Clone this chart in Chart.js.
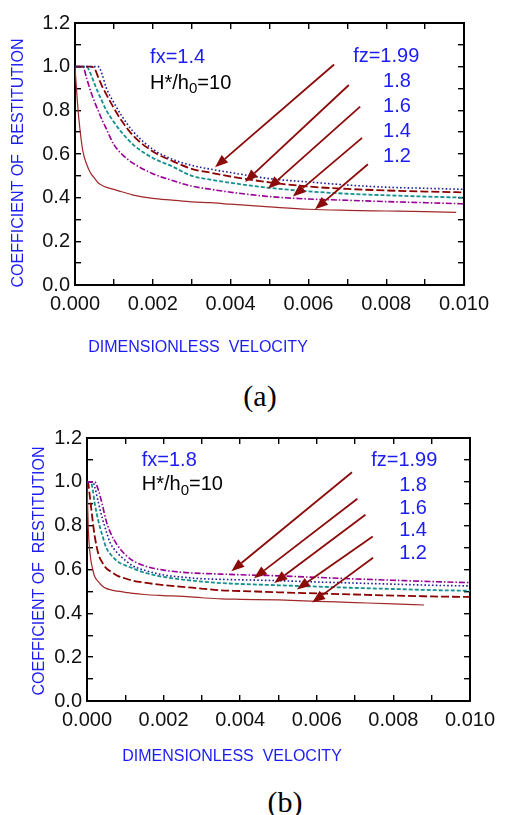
<!DOCTYPE html>
<html lang="en">
<head>
<meta charset="UTF-8">
<title>COR vs dimensionless velocity (a, b)</title>
<script src="https://cdn.jsdelivr.net/npm/chart.js@4.4.2/dist/chart.umd.min.js"></script>
<style>
    body { margin: 0; background: #fff; width: 508px; height: 815px; overflow: hidden; position: relative; }
    canvas { position: absolute; left: 0; }
    .cap { position: absolute; font-family: "Liberation Serif", "Times New Roman", serif; font-size: 30px; color: #000;
           transform: translate(-50%, -50%); white-space: nowrap; }
</style>
</head>
<body>
<canvas id="chartA" width="508" height="372" style="top:0"></canvas>
<div class="cap" style="left:260px; top:396px">(a)</div>
<canvas id="chartB" width="508" height="360" style="top:415px"></canvas>
<div class="cap" style="left:285px; top:802px">(b)</div>

<script>
// --- data ---
// panel (a): fx = 1.4
const velA = [0, 0.00005, 0.0001, 0.0002, 0.0003, 0.0004, 0.0005, 0.0006, 0.0007, 0.0008, 0.001, 0.0012, 0.0015,
              0.002, 0.0025, 0.003, 0.0035, 0.004, 0.005, 0.006, 0.007, 0.008, 0.009, 0.0098, 0.01];
const corA199 = [1, 1, 1, 1, 1, 1, 1, 1, 0.963, 0.905, 0.835, 0.775, 0.702, 0.622, 0.576, 0.548, 0.530, 0.515, 0.487, 0.472, 0.458, 0.448, 0.443, 0.439, 0.438];
const corA18  = [1, 1, 1, 1, 1, 1, 0.992, 0.95, 0.909, 0.875, 0.81, 0.752, 0.683, 0.612, 0.568, 0.532, 0.514, 0.497, 0.47, 0.451, 0.440, 0.433, 0.428, 0.425, 0.424];
const corA16  = [1, 1, 1, 1, 1, 0.968, 0.922, 0.879, 0.84, 0.802, 0.746, 0.699, 0.642, 0.582, 0.543, 0.500, 0.482, 0.468, 0.445, 0.429, 0.418, 0.411, 0.405, 0.401, 0.400];
const corA14  = [1, 1, 1, 1, 0.946, 0.889, 0.84, 0.797, 0.755, 0.717, 0.643, 0.60, 0.557, 0.51, 0.479, 0.453, 0.438, 0.425, 0.405, 0.394, 0.388, 0.382, 0.377, 0.373, 0.372];
const corA12  = [1, 0.868, 0.76, 0.615, 0.553, 0.513, 0.49, 0.467, 0.456, 0.448, 0.438, 0.427, 0.412, 0.397, 0.389, 0.381, 0.377, 0.37, 0.358, 0.347, 0.342, 0.339, 0.336, 0.333, null];

// panel (b): fx = 1.8
const velB = [0, 0.00003, 0.00005, 0.0001, 0.00015, 0.0002, 0.0003, 0.0004, 0.0005, 0.0006, 0.0008, 0.001, 0.0012, 0.0015,
              0.002, 0.0025, 0.003, 0.0035, 0.004, 0.005, 0.006, 0.007, 0.008, 0.0088, 0.009, 0.01];
const corB199 = [1, 1, 1, 1, 1, 1, 0.96, 0.896, 0.822, 0.773, 0.709, 0.668, 0.64, 0.617, 0.597, 0.587, 0.582, 0.579, 0.576, 0.571, 0.564, 0.557, 0.551, 0.546, 0.545, 0.540];
const corB18  = [1, 1, 1, 1, 1, 0.978, 0.903, 0.834, 0.776, 0.724, 0.674, 0.642, 0.616, 0.597, 0.575, 0.565, 0.558, 0.555, 0.553, 0.549, 0.543, 0.538, 0.533, 0.529, 0.528, 0.525];
const corB16  = [1, 1, 1, 1, 0.963, 0.903, 0.819, 0.756, 0.70, 0.673, 0.636, 0.619, 0.605, 0.586, 0.566, 0.554, 0.545, 0.538, 0.534, 0.528, 0.522, 0.516, 0.511, 0.507, 0.506, 0.503];
const corB14  = [1, 1, 0.97, 0.895, 0.82, 0.754, 0.669, 0.632, 0.606, 0.593, 0.571, 0.559, 0.549, 0.540, 0.529, 0.521, 0.513, 0.505, 0.502, 0.496, 0.491, 0.486, 0.481, 0.478, 0.477, 0.475];
const corB12  = [1, 0.807, 0.73, 0.644, 0.60, 0.568, 0.544, 0.525, 0.514, 0.508, 0.501, 0.496, 0.491, 0.486, 0.481, 0.477, 0.471, 0.466, 0.464, 0.461, 0.455, 0.449, 0.443, 0.438, null, null];

const fzLabels = ['fz=1.99', '1.8', '1.6', '1.4', '1.2'];

// arrows [velocity, COR]: tail then head
const arrowTailA = [[0.00666, 1.01], [0.00704, 0.916], [0.00733, 0.817], [0.00738, 0.674], [0.00753, 0.553]];
const arrowHeadA = [[0.0036, 0.539], [0.00437, 0.472], [0.00496, 0.441], [0.0056, 0.405], [0.00617, 0.347]];
const arrowTailB = [[0.00692, 1.044], [0.00706, 0.923], [0.00727, 0.850], [0.00746, 0.751], [0.00747, 0.654]];
const arrowHeadB = [[0.00377, 0.592], [0.00436, 0.560], [0.00489, 0.538], [0.00548, 0.509], [0.00588, 0.449]];

// --- styles ---
const FONT = 'Arial, "Liberation Sans", sans-serif';
const BLUE = '#1c1cf5';
const ARROW = '#8b0a0a';
const lineStyles = {
    dot:     { borderColor: '#1f1f9c', borderWidth: 1.6, borderDash: [1.6, 2.2] },
    dash:    { borderColor: '#8b0000', borderWidth: 1.8, borderDash: [8, 3] },
    teal:    { borderColor: '#13908f', borderWidth: 1.8, borderDash: [4, 2] },
    dashDot: { borderColor: '#960096', borderWidth: 1.6, borderDash: [6, 2, 1.5, 2] },
    solid:   { borderColor: '#a02828', borderWidth: 1.2, borderDash: [] }
};

Chart.defaults.font.family = FONT;
Chart.defaults.color = '#111';

// arrows, labels and axis titles
const notesPlugin = {
    id: 'notes',
    afterDraw(chart, args, o) {
        const { ctx, scales: { x, y } } = chart;
        const X = v => x.getPixelForValue(v), Y = v => y.getPixelForValue(v);
        ctx.save();

        // arrows
        ctx.strokeStyle = ARROW; ctx.fillStyle = ARROW; ctx.lineWidth = 1.8;
        o.tails.forEach((t, i) => {
            const x0 = X(t[0]), y0 = Y(t[1]), x1 = X(o.heads[i][0]), y1 = Y(o.heads[i][1]);
            const ang = Math.atan2(y1 - y0, x1 - x0), hl = 13, hw = 5;
            const bx = x1 - hl * Math.cos(ang), by = y1 - hl * Math.sin(ang);
            ctx.beginPath(); ctx.moveTo(x0, y0); ctx.lineTo(bx, by); ctx.stroke();
            ctx.beginPath();
            ctx.moveTo(x1, y1);
            ctx.lineTo(bx + hw * Math.sin(ang), by - hw * Math.cos(ang));
            ctx.lineTo(bx - hw * Math.sin(ang), by + hw * Math.cos(ang));
            ctx.closePath(); ctx.fill();
        });

        // labels
        ctx.textBaseline = 'middle'; ctx.textAlign = 'left';
        ctx.font = '20px ' + FONT;
        ctx.fillStyle = BLUE;
        ctx.fillText(o.fxText, X(o.fxAt[0]), Y(o.fxAt[1]));
        fzLabels.forEach((s, i) => ctx.fillText(s, X(o.fzAt[i][0]), Y(o.fzAt[i][1])));

        ctx.fillStyle = '#000';
        let hx = X(o.hAt[0]); const hy = Y(o.hAt[1]);
        ctx.fillText('H*/h', hx, hy); hx += ctx.measureText('H*/h').width;
        ctx.font = '15px ' + FONT;
        ctx.fillText('0', hx, hy + 6); hx += ctx.measureText('0').width;
        ctx.font = '20px ' + FONT;
        ctx.fillText('=10', hx, hy);

        // axis titles
        ctx.fillStyle = BLUE;
        ctx.font = '16px ' + FONT;
        ctx.textAlign = 'center';
        ctx.fillText('DIMENSIONLESS  VELOCITY', o.xTitle[0], o.xTitle[1]);
        ctx.translate(o.yTitle[0], o.yTitle[1]);
        ctx.rotate(-Math.PI / 2);
        ctx.fillText('COEFFICIENT OF  RESTITUTION', 0, 0);
        ctx.restore();
    }
};

// inward tick marks and a black border, on every side of the box
const edgeGrid = { display: true, drawOnChartArea: false, drawTicks: true, tickLength: -6, color: '#000', lineWidth: 1.4 };
const edgeBorder = { display: true, color: '#000', width: 2 };

function makeChart(id, vel, rows, styleOrder, geo, notes) {
    const datasets = rows.map((ys, i) => Object.assign({
        label: fzLabels[i],
        data: vel.map((v, j) => ({ x: v, y: ys[j] })).filter(p => p.y !== null),
        pointRadius: 0,
        fill: false,
        cubicInterpolationMode: 'monotone'
    }, lineStyles[styleOrder[i]]));

    new Chart(document.getElementById(id), {
        type: 'line',
        data: { datasets },
        options: {
            responsive: false,
            animation: false,
            devicePixelRatio: 1,
            layout: { padding: { top: geo.top, right: geo.right, left: 0, bottom: 0 } },
            plugins: { legend: { display: false }, tooltip: { enabled: false }, notes },
            scales: {
                x: {
                    type: 'linear', position: 'bottom', min: 0, max: 0.01,
                    grid: edgeGrid, border: edgeBorder,
                    ticks: { stepSize: 0.001, autoSkip: false, maxRotation: 0, padding: 13, font: { size: 20 },
                             callback: v => (Math.round(v * 1000) % 2 === 0 ? v.toFixed(3) : '') },
                    afterFit: s => { s.height = geo.xh; }
                },
                xTop: {
                    type: 'linear', position: 'top', min: 0, max: 0.01,
                    grid: edgeGrid, border: edgeBorder,
                    ticks: { stepSize: 0.001, autoSkip: false, display: false },
                    afterFit: s => { s.height = 0; }
                },
                y: {
                    type: 'linear', position: 'left', min: 0, max: 1.2,
                    grid: edgeGrid, border: edgeBorder,
                    ticks: { stepSize: 0.1, autoSkip: false, padding: 11, font: { size: 20 },
                             callback: v => (Math.round(v * 10) % 2 === 0 ? v.toFixed(1) : '') },
                    afterFit: s => { s.width = geo.yw; }
                },
                yRight: {
                    type: 'linear', position: 'right', min: 0, max: 1.2,
                    grid: edgeGrid, border: edgeBorder,
                    ticks: { stepSize: 0.1, autoSkip: false, display: false },
                    afterFit: s => { s.width = 0; }
                }
            }
        },
        plugins: [notesPlugin]
    });
}

makeChart('chartA', velA, [corA199, corA18, corA16, corA14, corA12],
    ['dot', 'dash', 'teal', 'dashDot', 'solid'],
    { top: 17, right: 44, xh: 87, yw: 75 },
    {
        tails: arrowTailA, heads: arrowHeadA,
        fxText: 'fx=1.4', fxAt: [0.00193, 1.042], hAt: [0.00193, 0.925],
        fzAt: [[0.00715, 1.046], [0.00792, 0.934], [0.00792, 0.817], [0.00792, 0.705], [0.00792, 0.589]],
        xTitle: [198, 348], yTitle: [19, 163]
    });

makeChart('chartB', velB, [corB199, corB18, corB16, corB14, corB12],
    ['dashDot', 'dot', 'teal', 'dash', 'solid'],
    { top: 14, right: 27, xh: 74, yw: 87 },
    {
        tails: arrowTailB, heads: arrowHeadB,
        fxText: 'fx=1.8', fxAt: [0.00143, 1.098], hAt: [0.00143, 0.988],
        fzAt: [[0.00742, 1.098], [0.00815, 0.984], [0.00815, 0.878], [0.00815, 0.776], [0.00815, 0.675]],
        xTitle: [232, 342], yTitle: [40, 156]
    });
</script>
</body>
</html>
